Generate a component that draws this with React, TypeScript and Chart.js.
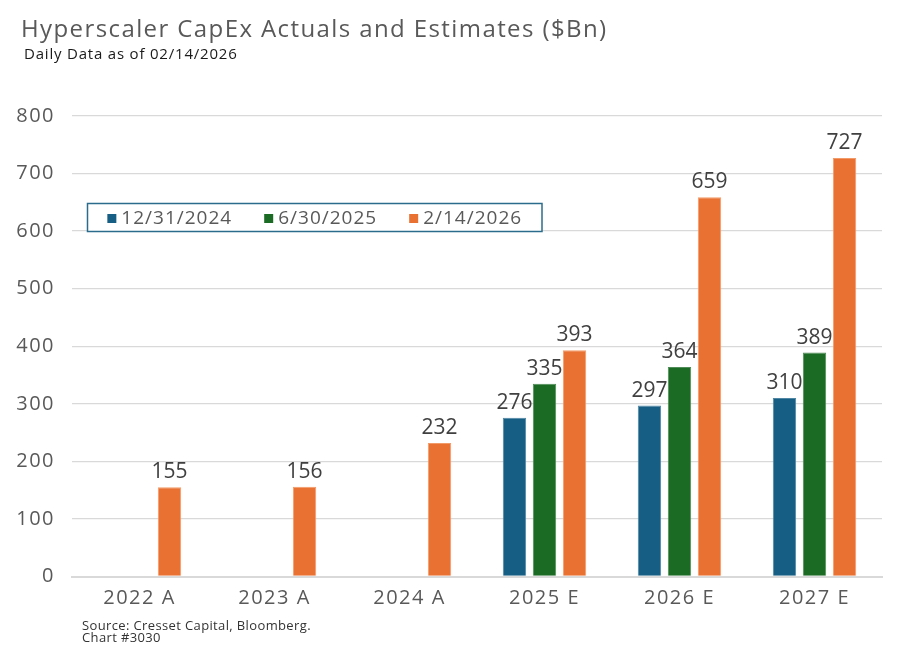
import React, { useEffect, useRef } from 'react'
import { Chart, registerables } from 'chart.js'

Chart.register(...registerables)

const categories = ['2022 A', '2023 A', '2024 A', '2025 E', '2026 E', '2027 E']
const seriesNames = ['12/31/2024', '6/30/2025', '2/14/2026']
const estDec2024 = [null, null, null, 276, 297, 310]
const estJun2025 = [null, null, null, 335, 364, 389]
const estFeb2026 = [155, 156, 232, 393, 659, 727]
const yMin = 0
const yMax = 800
const yStep = 100

const FONT = '"Open Sans", sans-serif'
const colors = ['#165e83', '#1b6b24', '#e97132']
const edges = ['#4f86a4', '#4f8c57', '#f29a68']

// widen the axis text a little (the original uses a wider typeface)
const tickSpacing = {
    id: 'tickSpacing',
    beforeDraw(chart: Chart) {
        ;(chart.ctx as any).letterSpacing = '1.5px'
    },
}

// value labels above each bar
const valueLabels = {
    id: 'valueLabels',
    afterDatasetsDraw(chart: Chart) {
        const ctx = chart.ctx as any
        ctx.save()
        ctx.letterSpacing = '0px'
        ctx.font = `21px ${FONT}`
        ctx.fillStyle = '#404040'
        ctx.textAlign = 'center'
        ctx.textBaseline = 'alphabetic'
        chart.data.datasets.forEach((ds, i) => {
            const meta = chart.getDatasetMeta(i)
            meta.data.forEach((bar: any, j: number) => {
                const v = ds.data[j] as number | null
                if (v == null) return
                ctx.fillText(String(v), bar.x, bar.y - 9)
            })
        })
        ctx.restore()
    },
}

// boxed legend sitting inside the plot area
const boxLegend = {
    id: 'boxLegend',
    afterDraw(chart: Chart) {
        const ctx = chart.ctx as any
        const box = { x: 87.5, y: 203.5, w: 454.5, h: 28 }
        ctx.save()
        ctx.fillStyle = '#ffffff'
        ctx.fillRect(box.x, box.y, box.w, box.h)
        ctx.strokeStyle = '#2b6c8c'
        ctx.lineWidth = 1.5
        ctx.strokeRect(box.x, box.y, box.w, box.h)
        ctx.letterSpacing = '1px'
        ctx.font = `19px ${FONT}`
        ctx.textBaseline = 'middle'
        const sq = 9
        const gapText = 5
        const gapItem = 32
        const items = chart.data.datasets.map((ds) => ({
            label: String(ds.label),
            color: ds.backgroundColor as string,
            w: ctx.measureText(String(ds.label)).width,
        }))
        const total = items.reduce((s, it) => s + sq + gapText + it.w, 0) + gapItem * (items.length - 1)
        let x = box.x + (box.w - total) / 2
        const cy = box.y + box.h / 2
        items.forEach((it) => {
            ctx.fillStyle = it.color
            ctx.fillRect(x, cy - sq / 2 + 1, sq, sq)
            x += sq + gapText
            ctx.fillStyle = '#595959'
            ctx.fillText(it.label, x, cy + 1)
            x += it.w + gapItem
        })
        ctx.restore()
    },
}

const CapexChart: React.FC = () => {
    const chartRef = useRef<HTMLCanvasElement | null>(null)
    const chartInstance = useRef<Chart | null>(null)

    useEffect(() => {
        const ctx = chartRef.current?.getContext('2d')
        if (!ctx) return

        const series = [estDec2024, estJun2025, estFeb2026]

        chartInstance.current = new Chart(ctx, {
            type: 'bar',
            data: {
                labels: categories,
                datasets: series.map((data, i) => ({
                    label: seriesNames[i],
                    data,
                    backgroundColor: colors[i],
                    borderColor: edges[i],
                    borderWidth: 1,
                    categoryPercentage: 0.667,
                    barPercentage: 0.78,
                })),
            },
            options: {
                animation: false,
                responsive: true,
                maintainAspectRatio: false,
                layout: {
                    padding: { top: 116, left: 0, right: 28, bottom: 44.5 },
                },
                plugins: {
                    legend: { display: false },
                    tooltip: { enabled: false },
                    title: { display: false },
                },
                scales: {
                    x: {
                        grid: { display: false, drawTicks: false },
                        border: { display: true, color: '#d9d9d9', width: 2 },
                        ticks: {
                            color: '#595959',
                            font: { family: FONT, size: 20 },
                            padding: 10,
                        },
                        afterFit: (scale: any) => {
                            scale.height = 40
                        },
                    },
                    y: {
                        min: yMin,
                        max: yMax,
                        grid: { color: '#d9d9d9', lineWidth: 1.3, drawTicks: false },
                        border: { display: false },
                        ticks: {
                            stepSize: yStep,
                            color: '#595959',
                            font: { family: FONT, size: 20 },
                            padding: 17,
                        },
                        afterFit: (scale: any) => {
                            scale.width = 72
                        },
                    },
                },
            },
            plugins: [tickSpacing, valueLabels, boxLegend],
        })

        return () => {
            if (chartInstance.current) {
                chartInstance.current.destroy()
                chartInstance.current = null
            }
        }
    }, [])

    return (
        <div style={{ position: 'absolute', left: 0, top: 0, width: 910, height: 661 }}>
            <canvas ref={chartRef}></canvas>
        </div>
    )
}

const App: React.FC = () => {
    return (
        <div style={{ position: 'relative', width: 910, height: 661, background: '#fff', fontFamily: FONT }}>
            <style>{'body{margin:0;background:#fff}'}</style>
            <CapexChart />
            <div style={{ position: 'absolute', left: 21, top: 16, fontSize: 24, lineHeight: 1, letterSpacing: 1.4, color: '#595959', whiteSpace: 'nowrap' }}>
                Hyperscaler CapEx Actuals and Estimates ($Bn)
            </div>
            <div style={{ position: 'absolute', left: 24, top: 46, fontSize: 15, lineHeight: 1, letterSpacing: 0.8, color: '#1a1a1a', whiteSpace: 'nowrap' }}>
                Daily Data as of 02/14/2026
            </div>
            <div style={{ position: 'absolute', left: 82, top: 619, fontSize: 13, lineHeight: '12px', letterSpacing: 0.37, color: '#333333', whiteSpace: 'nowrap' }}>
                Source: Cresset Capital, Bloomberg.
                <br />
                Chart #3030
            </div>
        </div>
    )
}

export default App
